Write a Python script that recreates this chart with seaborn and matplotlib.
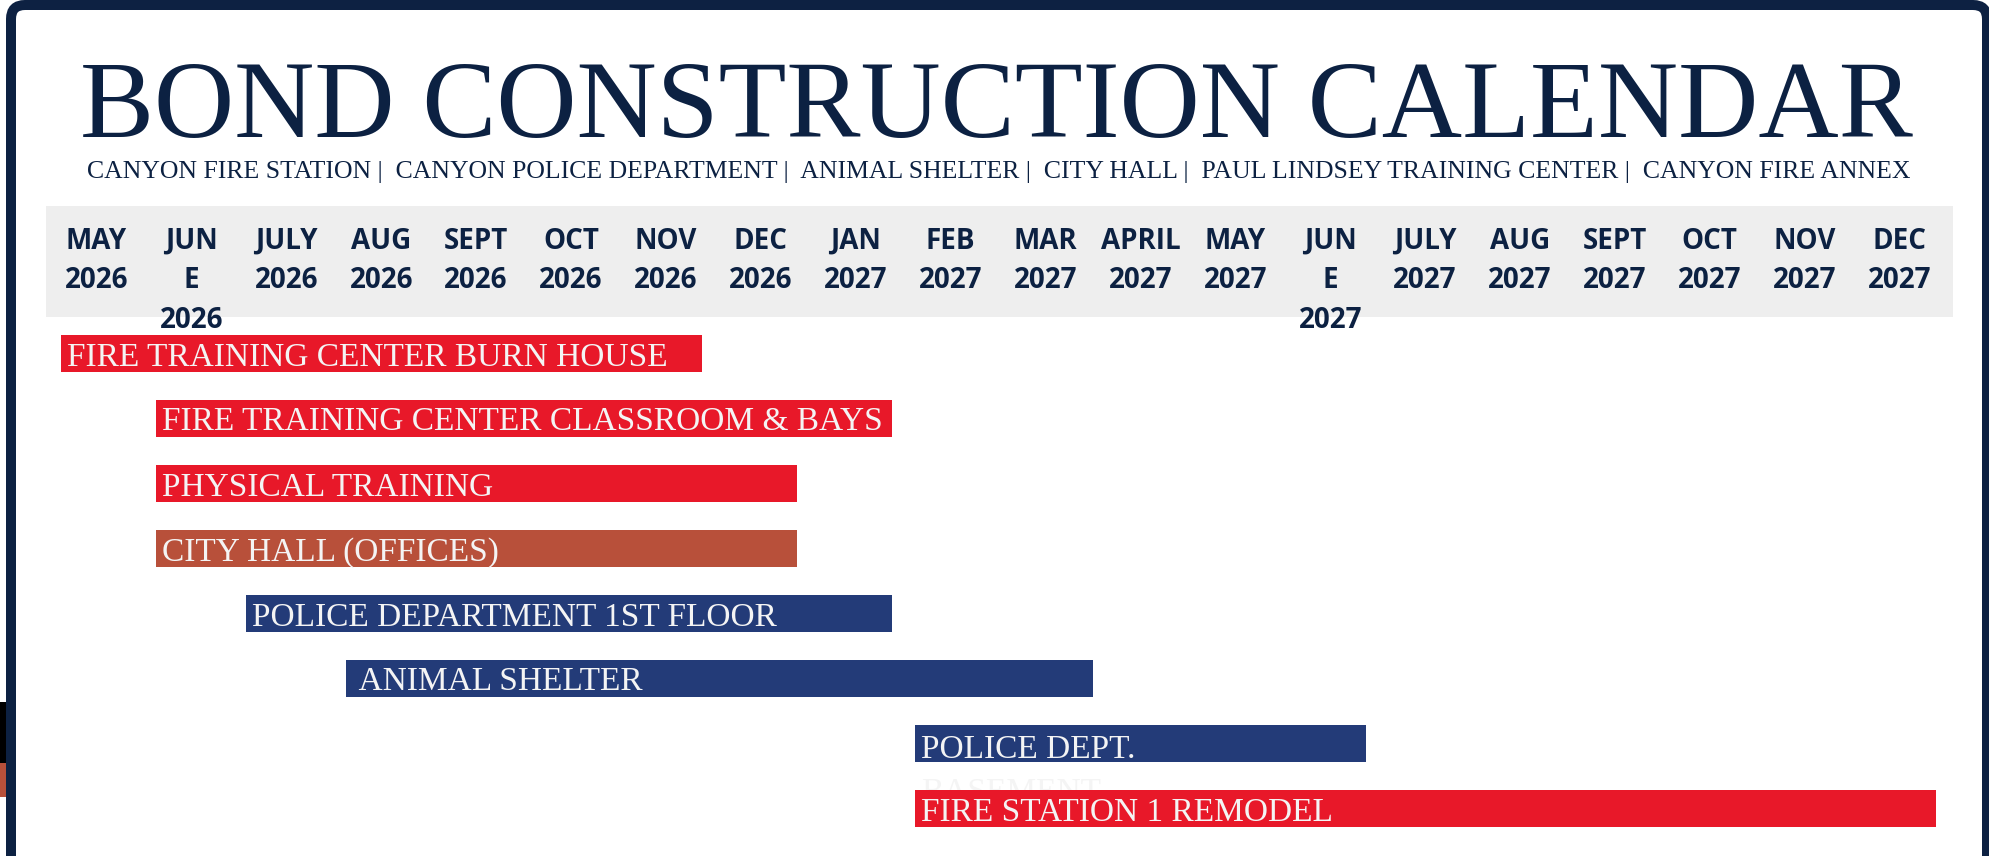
import matplotlib
matplotlib.use("Agg")
import matplotlib.pyplot as plt
from matplotlib.patches import Rectangle, FancyBboxPatch
from matplotlib.transforms import IdentityTransform
import seaborn as sns

# ---------------- data ----------------
months = ["MAY\n2026", "JUN\nE\n2026", "JULY\n2026", "AUG\n2026", "SEPT\n2026",
          "OCT\n2026", "NOV\n2026", "DEC\n2026", "JAN\n2027", "FEB\n2027",
          "MAR\n2027", "APRIL\n2027", "MAY\n2027", "JUN\nE\n2027", "JULY\n2027",
          "AUG\n2027", "SEPT\n2027", "OCT\n2027", "NOV\n2027", "DEC\n2027"]

tasks = ["FIRE TRAINING CENTER BURN HOUSE",
         "FIRE TRAINING CENTER CLASSROOM & BAYS",
         "PHYSICAL TRAINING",
         "CITY HALL (OFFICES)",
         "POLICE DEPARTMENT 1ST FLOOR",
         " ANIMAL SHELTER",
         "POLICE DEPT.\nBASEMENT",
         "FIRE STATION 1 REMODEL"]
# month index (0 = MAY 2026) of first and last month of each task
start_month = [0, 1, 1, 1, 1.95, 3, 9, 9]
end_month = [6, 8, 7, 7, 8, 10.12, 13, 19]
group = ["fire", "fire", "fire", "city", "police", "police", "police", "fire"]

title = "BOND CONSTRUCTION CALENDAR"
subtitle = ("CANYON FIRE STATION |  CANYON POLICE DEPARTMENT |  ANIMAL SHELTER |  "
            "CITY HALL |  PAUL LINDSEY TRAINING CENTER |  CANYON FIRE ANNEX")

# ---------------- style ----------------
NAVY = "#0c2142"
palette = {"fire": "#e81829", "city": "#b8503a", "police": "#233b78"}
INSET_L, INSET_R = 0.37, 0.38   # bar starts/ends inside month column
LINE_PITCH = 45                 # px between lines of a bar label

sns.set_theme(style="white")
plt.rcParams["font.family"] = ["Liberation Serif", "DejaVu Serif"]

W, H = 1990, 856
fig = plt.figure(figsize=(W / 100, H / 100), dpi=100)
fig.patch.set_facecolor("white")
ax = fig.add_axes([0, 0, 1, 1])

lefts = [s - INSET_L for s in start_month]
widths = [(e + INSET_R) - (s - INSET_L) for s, e in zip(start_month, end_month)]
colors = [palette[g] for g in group]

sns.barplot(x=widths, y=tasks, ax=ax, orient="h", errorbar=None, width=0.577,
            saturation=1, color=palette["fire"], left=lefts, facecolor=colors,
            edgecolor="none", linewidth=0)

# axis geometry: month i centre at 96.5 + 94.9 i px, row r centre at 353.5 + 65 r px
ax.set_xlim(-96.5 / 94.9, (W - 96.5) / 94.9)
ax.set_ylim((H - 353.5) / 65.0, -353.5 / 65.0)
ax.set_axis_off()

bars = ax.patches
bars[-1].set_zorder(4)

for i, (lab, l) in enumerate(zip(tasks, lefts)):
    n_extra = lab.count("\n")
    ax.annotate(lab, xy=(l, i), xytext=(6, -12 - LINE_PITCH * n_extra),
                textcoords="offset pixels",
                ha="left", va="baseline", color="#f4f4f4", fontsize=24,
                family="Liberation Serif", linespacing=1.5,
                zorder=5 if i == len(tasks) - 1 else 3, annotation_clip=False)

# header band
ax.add_patch(Rectangle((46 / W, 1 - 317 / H), (1953 - 46) / W, (317 - 206) / H,
                       transform=ax.transAxes, facecolor="#eeeeee",
                       edgecolor="none", zorder=0.5))
xt = ax.get_xaxis_transform()
for i, m in enumerate(months):
    for k, line in enumerate(m.split("\n")):
        ax.text(i, 1 - (249 + 39.5 * k) / H, line, transform=xt, ha="center",
                va="baseline", fontsize=20, fontweight="bold",
                family=["Open Sans", "DejaVu Sans"], color=NAVY, zorder=2)

# title and subtitle
fig.text(996.5 / W, 1 - 137 / H, title, ha="center", va="baseline",
         fontsize=80, color=NAVY, family="Liberation Serif")
fig.text(999 / W, 1 - 178 / H, subtitle, ha="center", va="baseline",
         fontsize=18.55, color=NAVY, family="Liberation Serif")

# slide frame and bleed from neighbouring slide
fig.add_artist(Rectangle((0, H - 763), 6, 61, transform=IdentityTransform(),
                         facecolor="black", edgecolor="none", zorder=9))
fig.add_artist(Rectangle((0, H - 797), 6, 34, transform=IdentityTransform(),
                         facecolor="#b8503a", edgecolor="none", zorder=9))
fig.add_artist(FancyBboxPatch((11, -60), 1976, H - 5 + 60,
                              boxstyle="round,pad=0,rounding_size=14",
                              transform=IdentityTransform(), facecolor="none",
                              edgecolor="#0d2142", linewidth=7.2, zorder=10))

fig.savefig("out.png", dpi=100)
